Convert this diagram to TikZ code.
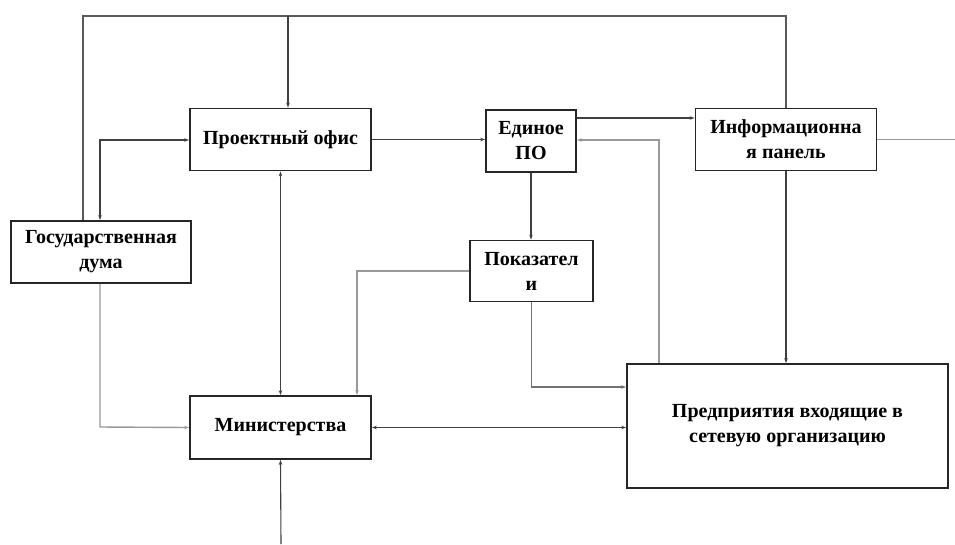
\documentclass[tikz,border=0pt]{standalone}
\usepackage{fontspec}
\setmainfont{Liberation Serif}
\usetikzlibrary{arrows.meta}
\begin{document}
\begin{tikzpicture}[x=1pt,y=-1pt,
  box/.style={draw=black!85,line width=1.8pt,rectangle,inner sep=0pt,align=center,
    font=\fontsize{20}{25}\selectfont\bfseries},
  conn/.style={draw=black!75,line width=1.1pt,-{Stealth[length=5pt,width=3.5pt]}},
  conn2/.style={draw=black!75,line width=1.1pt,{Stealth[length=5pt,width=3.5pt]}-{Stealth[length=5pt,width=3.5pt]}},
  light/.style={draw=black!40,line width=1.4pt},
  line/.style={draw=black!65,line width=1.1pt}]
\useasboundingbox (0,0) rectangle (955,544);
\fill[white] (0,0) rectangle (955,544);
\node[box,minimum width=181pt,minimum height=62pt] (office) at (280.5,139.5) {Проектный офис};
\node[box,minimum width=180pt,minimum height=62pt] (duma) at (101,252) {Государственная\\дума};
\node[box,minimum width=181pt,minimum height=63pt] (min) at (280.5,427.5) {Министерства};
\node[box,minimum width=90pt,minimum height=62pt] (po) at (531,141) {Единое\\ПО};
\node[box,minimum width=181pt,minimum height=62pt] (info) at (786,139.5) {Информационна\\я панель};
\node[box,minimum width=123pt,minimum height=61pt] (pokaz) at (531.5,271) {Показател\\и};
\node[box,minimum width=321pt,minimum height=124pt] (pred) at (787.5,426) {Предприятия входящие в\\сетевую организацию};
\coordinate (topL) at (83,16);
\coordinate (topR) at (786,16);
\coordinate (topM) at (288,16);
\coordinate (dk) at (100,140);
\coordinate (db) at (100,427);
\coordinate (bot) at (281,544);
\coordinate (pm) at (357,271);
\coordinate (pp) at (531,387);
\coordinate (pi) at (576,118);
\coordinate (pe) at (659,140);
\coordinate (re) at (955,140);
% top loop
\draw[line] (topL |- duma.north) -- (topL) -- (topR) -- (topR |- info.north);
\draw[conn] (topM) -- (topM |- office.north);
% duma <-> office
\draw[conn2] (dk |- duma.north) -- (dk) -- (dk -| office.west);
% office -> PO
\draw[conn] (office.east) -- (office.east -| po.west);
% office <-> ministries
\draw[conn2] (office.south) -- (min.north);
% duma -> ministries
\draw[conn,draw=black!40,line width=1.4pt] (db |- duma.south) -- (db) -- (min.west);
% bottom -> ministries
\draw[conn] (bot) -- (min.south);
% indicators -> ministries
\draw[conn,draw=black!40,line width=1.4pt] (pokaz.west) -- (pokaz.west -| pm) -- (pm |- min.north);
% ministries <-> enterprises
\draw[conn2] (min.east) -- (min.east -| pred.west);
% indicators -> enterprises
\draw[conn,draw=black!55] (pokaz.south) -- (pokaz.south |- pp) -- (pp -| pred.west);
% PO -> indicators
\draw[conn] (po.south) -- (po.south |- pokaz.north);
% PO -> info panel
\draw[conn] (pi -| po.east) -- (pi -| info.west);
% enterprises -> PO
\draw[conn,draw=black!40,line width=1.4pt] (pe |- pred.north) -- (pe) -- (pe -| po.east);
% info -> enterprises
\draw[conn] (info.south) -- (info.south |- pred.north);
% info -> right edge
\draw[light] (info.east) -- (info.east -| re);
\end{tikzpicture}
\end{document}
